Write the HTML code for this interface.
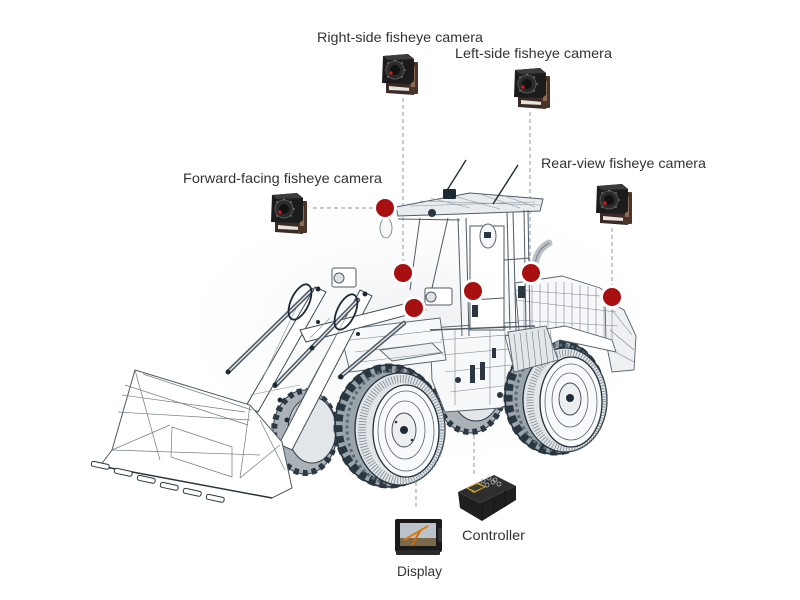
<!DOCTYPE html>
<html><head><meta charset="utf-8"><style>
html,body{margin:0;padding:0;background:#fff;}
svg{display:block;}
text{font-family:"Liberation Sans",sans-serif;font-size:14px;fill:#333;}
</style></head><body>
<svg width="800" height="600" viewBox="0 0 800 600" xmlns="http://www.w3.org/2000/svg">
<defs>
<radialGradient id="glow" cx="50%" cy="50%" r="50%">
<stop offset="0" stop-color="#eceef0"/><stop offset="1" stop-color="#fff" stop-opacity="0"/>
</radialGradient>
<g id="cam">
  <path d="M8,28 L8,40 L36,42 L38,30 Z" fill="#3a2b24"/>
  <path d="M11,33 L33,35 L33,38 L11,37 Z" fill="#e8e2de"/>
  <rect x="31" y="9" width="9" height="32" rx="1" fill="#4a3428"/>
  <rect x="33" y="14" width="4" height="20" fill="#8a6a55"/>
  <path d="M5,3 L30,1 L36,6 L36,28 L32,31 L4,30 Z" fill="#1c1c1c"/>
  <path d="M5,3 L30,1 L36,6 L10,7 Z" fill="#3c3c3c"/>
  <circle cx="17" cy="17" r="9" fill="#2b2b2b" stroke="#555" stroke-width="1"/>
  <circle cx="17" cy="17" r="5" fill="#111"/>
  <circle cx="13" cy="20" r="1.6" fill="#e0161a"/>
  <circle cx="10" cy="10" r="0.9" fill="#777"/><circle cx="24" cy="10" r="0.9" fill="#777"/>
  <circle cx="10" cy="24" r="0.9" fill="#777"/><circle cx="24" cy="24" r="0.9" fill="#777"/>
  <circle cx="17" cy="7.5" r="0.9" fill="#777"/><circle cx="27" cy="17" r="0.9" fill="#777"/>
</g>
</defs>

<ellipse cx="420" cy="330" rx="260" ry="150" fill="url(#glow)"/>

<!-- dashed connectors -->
<g stroke="#8c9aa8" stroke-width="1" stroke-dasharray="4 3" fill="none">
  <line x1="403" y1="98" x2="403" y2="264"/>
  <line x1="530" y1="112" x2="530" y2="264"/>
  <line x1="612" y1="228" x2="612" y2="288"/>
  <line x1="313" y1="208" x2="376" y2="208"/>
  <line x1="474" y1="428" x2="474" y2="474"/>
  <line x1="416" y1="482" x2="416" y2="510"/>
</g>

<!-- hidden wheels -->
<g stroke="#2f3c46" stroke-width="1">
  <ellipse cx="470" cy="388" rx="35" ry="45" fill="#aab2b8"/>
  <ellipse cx="470" cy="388" rx="34" ry="44" fill="none" stroke="#2c3943" stroke-width="6" stroke-dasharray="5 4"/>
  <ellipse cx="476" cy="385" rx="26" ry="36" fill="#e3e6e9"/>
  <ellipse cx="305" cy="432" rx="32" ry="42" fill="#aab2b8"/>
  <ellipse cx="305" cy="432" rx="31" ry="41" fill="none" stroke="#2c3943" stroke-width="6" stroke-dasharray="5 4"/>
  <ellipse cx="312" cy="430" rx="24" ry="33" fill="#e3e6e9"/>
</g>

<!-- body structure -->
<g stroke="#56626c" stroke-width="0.9" fill="#fff">
  <polygon points="430,328 520,322 522,398 500,408 445,412 432,380" fill="#f7f8f9"/>
  <polygon points="340,330 440,318 446,360 350,372" fill="#f7f8f9"/>
  <polygon points="380,350 432,343 442,353 392,361" fill="#eef0f2"/>
  <polygon points="515,283 562,276 600,288 616,300 620,340 520,342" fill="#f7f8f9"/>
  <polygon points="605,300 624,310 636,336 634,370 612,372 606,342" fill="#eef0f2"/>
</g>
<g stroke="#7b868f" stroke-width="0.6" fill="none">
  <path d="M524,286 V340 M532,285 V340 M540,284 V340 M548,283 V340 M556,282 V340 M564,282 V340 M572,283 V340 M580,285 V340 M588,286 V340 M596,288 V340 M604,292 V340 M612,297 V340"/>
  <path d="M515,300 L616,312 M516,320 L618,326 M516,290 L600,296"/>
  <path d="M440,340 L520,334 M442,355 L520,348 M445,372 L520,364 M450,392 L520,384"/>
  <path d="M455,330 V405 M490,326 V405 M505,325 V400"/>
  <path d="M350,340 L440,330 M355,352 L442,342 M360,362 L444,352"/>
  <path d="M612,310 L632,335 M610,330 L634,350 M612,350 L634,362"/>
</g>
<g fill="#2a3640">
  <rect x="470" y="365" width="5" height="18"/>
  <rect x="480" y="362" width="5" height="18"/>
  <rect x="492" y="348" width="4" height="10"/>
  <circle cx="458" cy="380" r="3"/><circle cx="500" cy="395" r="3"/>
</g>
<path d="M535,266 Q536,250 549,243" stroke="#b8bfc5" stroke-width="7" fill="none" stroke-linecap="round"/>
<path d="M535,266 Q536,250 549,243" stroke="#6a757e" stroke-width="0.8" fill="none"/>

<!-- cab -->
<g stroke="#4f5b65" stroke-width="1" fill="none">
  <polygon points="396,207 470,193 543,199 540,211 460,214 398,216" fill="#e9ecee"/>
  <path d="M410,206 L535,202 M420,201 L540,205 M430,198 L470,208 M450,195 L500,209 M480,194 L520,208 M505,196 L535,207" stroke="#8a949b" stroke-width="0.6"/>
  <line x1="398" y1="219" x2="460" y2="220"/>
  <path d="M458,218 L462,336 M466,218 L469,336"/>
  <path d="M507,212 L510,330 M513,212 L516,330"/>
  <path d="M524,210 L526,330 M528,210 L530,330"/>
  <rect x="470" y="226" width="34" height="104" fill="#fff"/>
  <path d="M448,218 L432,288 M420,218 L410,290"/>
  <line x1="430" y1="330" x2="535" y2="326" stroke-width="1.4"/>
  <path d="M470,300 L504,298 M504,260 L530,258"/>
</g>
<ellipse cx="488" cy="236" rx="8" ry="12" fill="#f6f7f8" stroke="#5a6670" stroke-width="1"/>
<rect x="484" y="232" width="7" height="6" fill="#2a3640"/>
<ellipse cx="386" cy="228" rx="6" ry="10" fill="#f6f7f8" stroke="#6a757e" stroke-width="0.8"/>
<circle cx="432" cy="213" r="4" fill="#2a3640"/>
<line x1="466" y1="160" x2="446" y2="192" stroke="#1e2a33" stroke-width="1.4"/>
<line x1="518" y1="165" x2="493" y2="204" stroke="#1e2a33" stroke-width="1.4"/>
<rect x="443" y="189" width="13" height="10" rx="1.5" fill="#1e2a33"/>
<rect x="472" y="305" width="6" height="12" fill="#2a3640"/>
<rect x="518" y="286" width="7" height="12" fill="#2a3640"/>

<g stroke="#4f5b65" stroke-width="1" fill="#fff">
  <rect x="332" y="268" width="24" height="19" rx="2"/>
  <circle cx="339" cy="278" r="5" fill="#dfe3e6"/>
  <rect x="425" y="288" width="27" height="17" rx="2"/>
  <circle cx="431" cy="297" r="5" fill="#dfe3e6"/>
</g>

<!-- front tire -->
<g>
  <ellipse cx="389" cy="426" rx="54" ry="61" fill="#9aa4ab" stroke="#22303a" stroke-width="1.6"/>
  <ellipse cx="389" cy="426" rx="51" ry="58" fill="none" stroke="#2a3640" stroke-width="9" stroke-dasharray="7 4"/>
  <ellipse cx="394" cy="427" rx="47" ry="57" fill="none" stroke="#5d6973" stroke-width="3" stroke-dasharray="3 3"/>
  <ellipse cx="400" cy="429" rx="45" ry="56" fill="#e1e5e8" stroke="#22303a" stroke-width="1.3"/>
  <ellipse cx="402" cy="430" rx="40" ry="51" fill="none" stroke="#7f8a92" stroke-width="8" stroke-dasharray="0.8 2"/>
  <ellipse cx="406" cy="431" rx="33" ry="46" fill="#f8f9fa" stroke="#22303a" stroke-width="1.3"/>
  <ellipse cx="406" cy="431" rx="28" ry="40" fill="none" stroke="#5a6670" stroke-width="0.8"/>
  <ellipse cx="405" cy="430" rx="20" ry="29" fill="none" stroke="#5a6670" stroke-width="0.8"/>
  <ellipse cx="404" cy="430" rx="12" ry="17" fill="#eceef0" stroke="#3a4650" stroke-width="0.9"/>
  <circle cx="404" cy="430" r="4" fill="#1e2a33"/>
  <circle cx="396" cy="422" r="1.3" fill="#333"/><circle cx="412" cy="440" r="1.3" fill="#333"/>
</g>
<!-- rear tire -->
<g>
  <ellipse cx="555" cy="397" rx="50" ry="57" fill="#9aa4ab" stroke="#22303a" stroke-width="1.6"/>
  <ellipse cx="555" cy="397" rx="47" ry="54" fill="none" stroke="#2a3640" stroke-width="9" stroke-dasharray="7 4"/>
  <ellipse cx="560" cy="398" rx="44" ry="53" fill="none" stroke="#5d6973" stroke-width="3" stroke-dasharray="3 3"/>
  <ellipse cx="565" cy="400" rx="42" ry="52" fill="#e1e5e8" stroke="#22303a" stroke-width="1.3"/>
  <ellipse cx="567" cy="401" rx="37" ry="48" fill="none" stroke="#7f8a92" stroke-width="7" stroke-dasharray="0.8 2"/>
  <ellipse cx="571" cy="402" rx="31" ry="45" fill="#f8f9fa" stroke="#22303a" stroke-width="1.3"/>
  <ellipse cx="571" cy="402" rx="26" ry="38" fill="none" stroke="#5a6670" stroke-width="0.8"/>
  <ellipse cx="570" cy="400" rx="18" ry="27" fill="none" stroke="#5a6670" stroke-width="0.8"/>
  <ellipse cx="570" cy="399" rx="11" ry="16" fill="#eceef0" stroke="#3a4650" stroke-width="0.9"/>
  <circle cx="570" cy="398" r="4" fill="#1e2a33"/>
</g>
<!-- rear fender over tire -->
<g stroke="#56626c" stroke-width="0.9">
  <polygon points="505,336 565,326 612,340 616,352 560,340 512,362" fill="#fff"/>
  <polygon points="508,332 546,326 558,360 514,372" fill="#e3e6e9"/>
  <path d="M514,334 L518,370 M520,333 L524,369 M526,332 L530,368 M532,331 L536,367 M538,330 L542,366 M544,329 L548,364 M550,330 L554,362" stroke="#6f7a83" stroke-width="0.6" fill="none"/>
</g>

<!-- lift arms & cylinders -->
<g stroke="#3f4b55" stroke-width="1" fill="#fff">
  <polygon points="315,287 326,292 258,412 246,406"/>
  <polygon points="360,290 372,296 292,450 279,444"/>
  <polygon points="300,330 420,300 426,310 306,342"/>
</g>
<g stroke="#8a949b" stroke-width="0.6" fill="none">
  <path d="M262,380 L300,300 M290,420 L350,310 M310,338 L330,318 M250,395 L300,385"/>
</g>
<g stroke-linecap="round">
  <line x1="228" y1="372" x2="312" y2="290" stroke="#4d5963" stroke-width="4.5"/>
  <line x1="228" y1="372" x2="312" y2="290" stroke="#dfe3e6" stroke-width="1.5"/>
  <line x1="275" y1="386" x2="358" y2="300" stroke="#4d5963" stroke-width="4.5"/>
  <line x1="275" y1="386" x2="358" y2="300" stroke="#dfe3e6" stroke-width="1.5"/>
  <line x1="340" y1="377" x2="404" y2="323" stroke="#4d5963" stroke-width="4.5"/>
  <line x1="340" y1="377" x2="404" y2="323" stroke="#dfe3e6" stroke-width="1.5"/>
</g>
<g fill="none" stroke="#1e2a33" stroke-width="1.8">
  <ellipse cx="300" cy="302" rx="9" ry="19" transform="rotate(25 300 302)"/>
  <ellipse cx="346" cy="312" rx="9" ry="19" transform="rotate(25 346 312)"/>
</g>
<g fill="#1e2a33">
  <circle cx="318" cy="289" r="2.5"/><circle cx="365" cy="294" r="2.5"/>
  <circle cx="275" cy="385" r="2.5"/><circle cx="228" cy="372" r="2.5"/>
  <circle cx="312" cy="348" r="2.5"/><circle cx="341" cy="377" r="2.5"/>
  <circle cx="280" cy="400" r="2.5"/><circle cx="287" cy="420" r="2.5"/>
  <circle cx="318" cy="322" r="2"/><circle cx="358" cy="334" r="2"/>
</g>

<!-- bucket -->
<g stroke="#4d5963" stroke-width="1" fill="#fff">
  <polygon points="135,370 250,405 282,442 292,488 272,498 100,466 112,450"/>
</g>
<g stroke="#6f7a83" stroke-width="0.7" fill="none">
  <line x1="143" y1="374" x2="252" y2="410"/>
  <line x1="135" y1="370" x2="160" y2="460"/>
  <line x1="250" y1="405" x2="240" y2="478"/>
  <line x1="118" y1="412" x2="250" y2="420"/>
  <line x1="112" y1="450" x2="170" y2="425"/>
  <line x1="280" y1="445" x2="240" y2="478"/>
  <polygon points="172,427 232,447 232,477 171,457"/>
  <line x1="122" y1="395" x2="245" y2="412"/>
  <line x1="125" y1="385" x2="248" y2="425"/>
  <line x1="112" y1="450" x2="260" y2="455"/>
  <line x1="260" y1="420" x2="285" y2="470"/>
</g>
<line x1="100" y1="466" x2="272" y2="498" stroke="#2a3640" stroke-width="1.5"/>
<g fill="#fff" stroke="#2a3640" stroke-width="1">
  <rect x="92" y="461" width="18" height="5" rx="2" transform="rotate(12 92 461)"/>
  <rect x="115" y="468" width="18" height="5" rx="2" transform="rotate(12 115 468)"/>
  <rect x="138" y="475" width="18" height="5" rx="2" transform="rotate(12 138 475)"/>
  <rect x="161" y="482" width="18" height="5" rx="2" transform="rotate(12 161 482)"/>
  <rect x="184" y="488" width="18" height="5" rx="2" transform="rotate(12 184 488)"/>
  <rect x="207" y="494" width="18" height="5" rx="2" transform="rotate(12 207 494)"/>
</g>

<!-- red dots -->
<g>
  <circle cx="385" cy="208" r="12" fill="#fff"/><circle cx="385" cy="208" r="9" fill="#a80f10"/>
  <circle cx="403" cy="273" r="12" fill="#fff"/><circle cx="403" cy="273" r="9" fill="#a80f10"/>
  <circle cx="414" cy="308" r="12" fill="#fff"/><circle cx="414" cy="308" r="9" fill="#a80f10"/>
  <circle cx="473" cy="291" r="12" fill="#fff"/><circle cx="473" cy="291" r="9" fill="#a80f10"/>
  <circle cx="531" cy="273" r="12" fill="#fff"/><circle cx="531" cy="273" r="9" fill="#a80f10"/>
  <circle cx="612" cy="297" r="12" fill="#fff"/><circle cx="612" cy="297" r="9" fill="#a80f10"/>
</g>

<!-- cameras -->
<use href="#cam" x="378" y="53"/>
<use href="#cam" x="510" y="67"/>
<use href="#cam" x="267" y="192"/>
<use href="#cam" x="592" y="183"/>

<!-- controller -->
<g>
  <polygon points="458,492 460,508 482,521 516,500 516,486 480,503" fill="#1f1f1f"/>
  <polygon points="458,492 494,475 516,486 480,503" fill="#2e2e2e"/>
  <polygon points="466,488 478,482 486,487 474,493" fill="#c9a227"/>
  <polygon points="468,488 477,484 484,487 475,491" fill="#3a3a3a"/>
  <g fill="none" stroke="#bbb" stroke-width="0.8">
    <circle cx="483" cy="481" r="2"/><circle cx="489" cy="478" r="2"/><circle cx="495" cy="480" r="2"/>
    <circle cx="487" cy="485" r="2"/><circle cx="493" cy="482" r="2"/><circle cx="499" cy="484" r="2"/>
  </g>
  <path d="M482,504 L482,520 M494,497 L494,513 M505,491 L505,507" stroke="#111" stroke-width="0.8"/>
</g>

<!-- display -->
<g>
  <rect x="395" y="519" width="47" height="33" rx="2" fill="#1a1a1a"/>
  <rect x="400" y="523" width="36" height="23" fill="#b9c3c9"/>
  <rect x="400" y="538" width="36" height="8" fill="#7a6a4c"/>
  <line x1="404" y1="540" x2="428" y2="526" stroke="#e07a10" stroke-width="2"/>
  <line x1="412" y1="545" x2="420" y2="531" stroke="#d06a10" stroke-width="2"/>
  <rect x="396" y="550" width="44" height="5" rx="1" fill="#2a2a2a"/>
  <rect x="438" y="528" width="4" height="14" fill="#333"/>
</g>

<!-- labels -->
<text x="317" y="42" textLength="166" lengthAdjust="spacingAndGlyphs">Right-side fisheye camera</text>
<text x="455" y="58" textLength="157" lengthAdjust="spacingAndGlyphs">Left-side fisheye camera</text>
<text x="541" y="168" textLength="165" lengthAdjust="spacingAndGlyphs">Rear-view fisheye camera</text>
<text x="183" y="183" textLength="199" lengthAdjust="spacingAndGlyphs">Forward-facing fisheye camera</text>
<text x="462" y="540" textLength="63" lengthAdjust="spacingAndGlyphs">Controller</text>
<text x="397" y="576" textLength="45" lengthAdjust="spacingAndGlyphs">Display</text>
</svg>
</body></html>
